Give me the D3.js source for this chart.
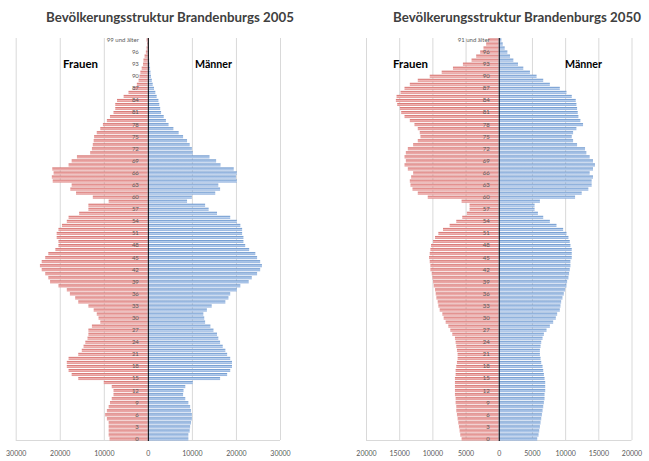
<!DOCTYPE html>
<html><head><meta charset="utf-8">
<script src="https://cdn.jsdelivr.net/npm/d3@7"></script>
<style>body{margin:0;background:#fff;} svg{display:block;}</style>
</head><body><svg id="c" width="649" height="461"></svg>
<script>
// Age categories 0..99 (top category = "... und älter")
const ages = d3.range(0, 100);

// 2005, persons per age year (index = age)
const frauen2005 = [
 8700, 8900, 8900, 8900, 8900, 9300, 9700, 9300, 8900, 8600,
 8200, 7800, 7800, 8200,10000,15800,17300,18000,18400,18400,
18000,15800,15000,14600,14200,13700,13500,13500,12700,10800,
11200,11600,12300,13500,15800,16500,17700,18400,20300,22200,
22600,23300,24100,24500,24100,23300,22600,21000,20300,20300,
20700,20700,20300,19500,18400,18000,15600,13500,13500, 8900,
12500,16300,17600,17300,21600,21800,21400,21700,18000,17300,
16100,13100,12700,12500,12300,12200,11600,10800,10200, 9300,
 8600, 7800, 7400, 7400, 7000, 5500, 4400, 3300, 2500, 2100,
 1900, 1700, 1400, 1100, 1000,  750,  450,  300,  200,  300];
const maenner2005 = [
 9200, 9200, 9500, 9600, 9800,10000,10000, 9800, 9600, 9200,
 8500, 8000, 8100, 8500,10200,16400,18000,18700,19100,19100,
18700,18000,17600,17000,16400,16000,15700,14900,14200,13000,
12800,12600,13400,14500,17600,18300,18700,20200,21000,22900,
23600,24800,25500,25900,25500,24800,24400,23000,22100,21700,
21700,21400,21400,21000,20200,18700,15700,13800,13000, 8900,
10000,15300,16400,16000,20200,20000,20200,19500,16500,15500,
14000,10200,10000, 9500, 8900, 8000, 7000, 5800, 4700, 4100,
 3600, 3000, 2800, 2600, 2400, 2000, 1700, 1400, 1100,  900,
  700,  600,  500,  400,  300,  250,  200,  150,  100,  100];

// 2050 projection, persons per age year (index = age)
const frauen2050 = [
 5600, 5800, 5900, 6000, 6100, 6200, 6300, 6400, 6400, 6500,
 6500, 6600, 6600, 6600, 6600, 6600, 6500, 6500, 6400, 6300,
 6200, 6200, 6300, 6400, 6500, 6600, 7000, 7300, 7600, 8000,
 8300, 8500, 8900, 9100, 9200, 9400, 9500, 9600, 9800, 9900,
10000,10100,10300,10300,10400,10500,10400,10300,10200, 9900,
 9600, 9100, 8400, 7400, 6400, 5500, 4800, 4400, 4400, 5600,
10700,12200,13000,13300,13400,13200,12900,13700,14200,14000,
14200,14000,13700,12900,12200,11800,11900,12200,12700,13400,
14200,14700,14900,15300,15500,15400,14800,14200,13400,12200,
10400, 8600, 6900, 5400, 4100, 3400, 2800, 2300, 1900, 1600];
const maenner2050 = [
 5800, 6000, 6100, 6200, 6300, 6400, 6500, 6600, 6700, 6800,
 6900, 6900, 7000, 7000, 7000, 6900, 6800, 6700, 6600, 6400,
 6300, 6200, 6200, 6300, 6400, 6600, 6800, 7200, 7700, 8200,
 8600, 8800, 9200, 9300, 9400, 9600, 9800,10000,10200,10300,
10500,10600,10700,10800,10800,11000,11000,11000,10800,10700,
10500,10200, 9700, 8700, 7700, 6700, 5900, 5400, 5400, 6200,
11500,12500,13500,14000,14000,14200,13700,14200,14500,14200,
13700,13200,13000,11800,11200,11000,11200,11700,12700,12300,
12000,11900,11800,11700,11600,11000,10200, 9200, 7700, 6700,
 5700, 4700, 3700, 2900, 2200, 1700, 1300,  900,  600,  400];

const xTicks2005 = [-30000, -20000, -10000, 0, 10000, 20000, 30000];
const xTicks2050 = [-20000, -15000, -10000, -5000, 0, 5000, 10000, 15000, 20000];
const titles = ["Bevölkerungsstruktur Brandenburgs 2005", "Bevölkerungsstruktur Brandenburgs 2050"];
const topLabels = ["99 und älter", "91 und älter"];
const sexLabels = ["Frauen", "Männer"];

const svg = d3.select("#c");
const defs = svg.append("defs");
function grad(id, c1, c2, c3) {
  const g = defs.append("linearGradient").attr("id", id)
    .attr("x1", 0).attr("y1", 0).attr("x2", 0).attr("y2", 1);
  g.append("stop").attr("offset", "0%").attr("stop-color", c1);
  g.append("stop").attr("offset", "55%").attr("stop-color", c2);
  g.append("stop").attr("offset", "100%").attr("stop-color", c3);
}
grad("gF", "#CF625F", "#F1B8B7", "#DE8A88");
grad("gM", "#5B8AC6", "#BCD2EE", "#86A9DA");

// fit a text's font size so that its natural width equals w
function fitText(sel, w, base) {
  sel.attr("font-size", base);
  const cw = sel.node().getComputedTextLength();
  sel.attr("font-size", (base * w / cw).toFixed(2));
}

function pyramid(cfg) {
  const g = svg.append("g");
  const x = d3.scaleLinear().domain([cfg.ticks[0], cfg.ticks[cfg.ticks.length - 1]]).range(cfg.xr);
  const y = d3.scaleBand().domain(ages.slice().reverse()).range([38, 441]).paddingInner(0.25).paddingOuter(0.12);
  const yTop = 38, yBot = 440;

  // gridlines
  g.append("g").selectAll("line").data(cfg.ticks.filter(t => t !== 0)).join("line")
    .attr("x1", d => x(d) + 0.5).attr("x2", d => x(d) + 0.5)
    .attr("y1", yTop).attr("y2", yBot)
    .attr("stroke", "#D9D9D9").attr("stroke-width", 1);
  g.append("line").attr("x1", x.range()[0]).attr("x2", x.range()[1])
    .attr("y1", yBot + 0.5).attr("y2", yBot + 0.5).attr("stroke", "#D9D9D9");

  // bars
  g.append("g").selectAll("rect").data(ages).join("rect")
    .attr("x", a => x(-cfg.female[a])).attr("width", a => x(0) - x(-cfg.female[a]))
    .attr("y", a => y(a)).attr("height", y.bandwidth())
    .attr("fill", "url(#gF)");
  g.append("g").selectAll("rect").data(ages).join("rect")
    .attr("x", x(0)).attr("width", a => x(cfg.male[a]) - x(0))
    .attr("y", a => y(a)).attr("height", y.bandwidth())
    .attr("fill", "url(#gM)");

  // centre axis
  g.append("line").attr("x1", x(0) + 0.5).attr("x2", x(0) + 0.5)
    .attr("y1", yTop).attr("y2", yBot + 1).attr("stroke", "#000").attr("stroke-width", 1);

  // age labels
  const ya = d3.axisLeft(y).tickValues(ages.filter(a => a % 3 === 0))
    .tickFormat(a => a === 99 ? cfg.topLabel : String(a)).tickSize(0).tickPadding(9);
  const yg = g.append("g").attr("transform", `translate(${x(0)},0)`).call(ya);
  yg.select(".domain").remove();
  yg.selectAll("text").attr("font-family", "Lato, 'DejaVu Sans', sans-serif")
    .attr("font-size", 6).attr("fill", "#595959");

  // bottom tick labels
  const xa = d3.axisBottom(x).tickValues(cfg.ticks).tickFormat(d => String(Math.abs(d))).tickSize(0).tickPadding(11);
  const xg = g.append("g").attr("transform", `translate(0,${yBot})`).call(xa);
  xg.select(".domain").remove();
  xg.selectAll("text").attr("font-family", "Lato, 'DejaVu Sans', sans-serif")
    .attr("font-size", 7).attr("fill", "#595959");

  // title
  const t = g.append("text").attr("x", cfg.titleX).attr("y", 22).attr("text-anchor", "middle")
    .attr("font-family", "Lato, 'DejaVu Sans', sans-serif").attr("font-weight", "bold")
    .attr("fill", "#404040").text(cfg.title);
  fitText(t, 248, 15);

  // Frauen / Männer
  const f = g.append("text").attr("x", cfg.fX).attr("y", 68)
    .attr("font-family", "Lato, 'DejaVu Sans', sans-serif").attr("font-weight", "bold")
    .attr("fill", "#000").text(sexLabels[0]);
  fitText(f, 35, 10);
  const m = g.append("text").attr("x", cfg.mX).attr("y", 68)
    .attr("font-family", "Lato, 'DejaVu Sans', sans-serif").attr("font-weight", "bold")
    .attr("fill", "#000").text(sexLabels[1]);
  fitText(m, 37, 10);
}

pyramid({ xr: [15.7, 280], ticks: xTicks2005, female: frauen2005, male: maenner2005,
  title: titles[0], titleX: 170, topLabel: topLabels[0], fX: 63, mX: 195 });
pyramid({ xr: [366, 631.5], ticks: xTicks2050, female: frauen2050, male: maenner2050,
  title: titles[1], titleX: 517, topLabel: topLabels[1], fX: 393, mX: 565 });
</script>
</body></html>
